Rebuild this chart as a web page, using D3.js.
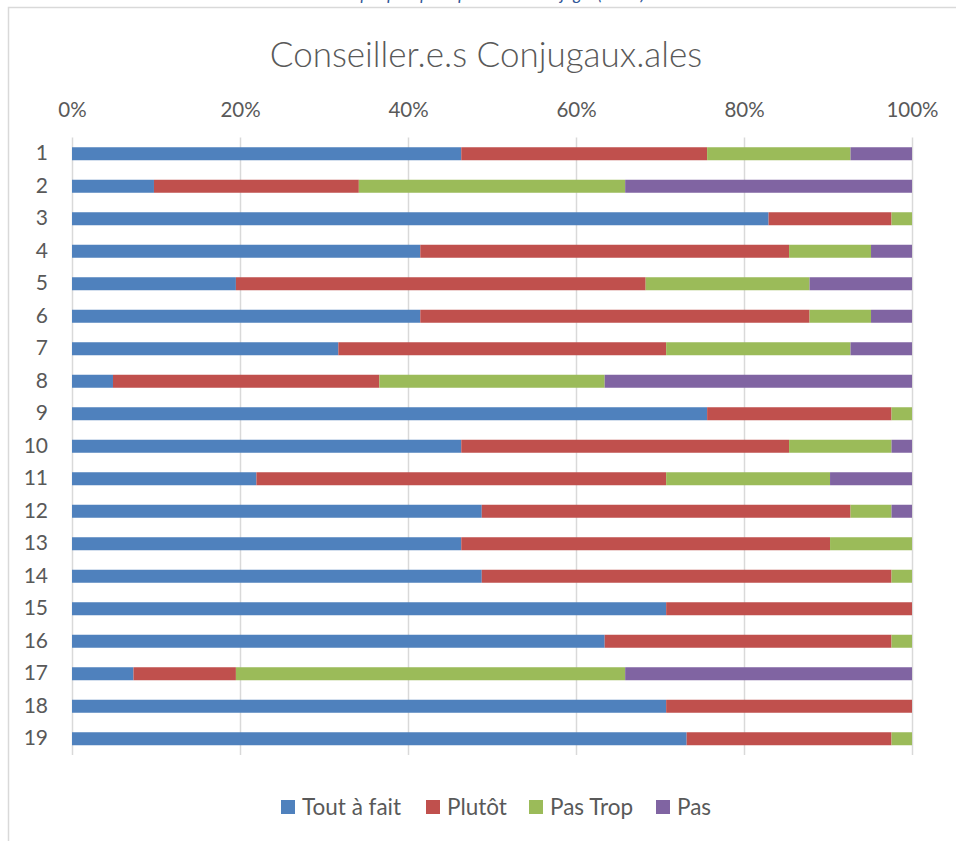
<!DOCTYPE html>
<html>
<head>
<meta charset="utf-8">
<script src="https://cdn.jsdelivr.net/npm/d3@7"></script>
<style>
  body { margin: 0; background: #fff; }
  svg text { font-family: Lato, "Open Sans", sans-serif; fill: #595959; }
</style>
</head>
<body>
<script>
// Chart data: counts of answers per question (41 respondents)
var questions = ["1","2","3","4","5","6","7","8","9","10","11","12","13","14","15","16","17","18","19"];
var series = ["Tout à fait", "Plutôt", "Pas Trop", "Pas"];
var toutAFait = [19, 4, 34, 17, 8, 17, 13, 2, 31, 19, 9, 20, 19, 20, 29, 26, 3, 29, 30];
var plutot    = [12, 10, 6, 18, 20, 19, 16, 13, 9, 16, 20, 18, 18, 20, 12, 14, 5, 12, 10];
var pasTrop   = [7, 13, 1, 4, 8, 3, 9, 11, 1, 5, 8, 2, 4, 1, 0, 1, 19, 0, 1];
var pas       = [3, 14, 0, 2, 5, 2, 3, 15, 0, 1, 4, 1, 0, 0, 0, 0, 14, 0, 0];
var tickValues = [0, 0.2, 0.4, 0.6, 0.8, 1];
var colors = ["#4F81BD", "#C0504D", "#9BBB59", "#8064A2"];

var width = 956, height = 841;
var margin = {left: 72, right: 44, top: 137.5, bottom: 86};

var svg = d3.select("body").append("svg")
    .attr("width", width)
    .attr("height", height);

// chart frame
svg.append("rect")
    .attr("x", 8.5).attr("y", 7.5)
    .attr("width", 1000).attr("height", 1000)
    .attr("fill", "#fff")
    .attr("stroke", "#D9D9D9")
    .attr("stroke-width", 1.5);

// caption above the chart (cut off in the original)
svg.append("text")
    .attr("x", 490).attr("y", 0)
    .attr("text-anchor", "middle")
    .attr("font-style", "italic")
    .attr("font-size", 17)
    .style("fill", "#2F5597")
    .text("Graphique : pratique conseil conjugal (n=41)");

svg.append("text")
    .attr("x", 486).attr("y", 67)
    .attr("text-anchor", "middle")
    .attr("font-size", 35)
    .attr("font-weight", 300)
    .text("Conseiller.e.s Conjugaux.ales");

var table = questions.map(function(q, i) {
    return {q: q, "Tout à fait": toutAFait[i], "Plutôt": plutot[i], "Pas Trop": pasTrop[i], "Pas": pas[i]};
});

var stacked = d3.stack()
    .keys(series)
    .offset(d3.stackOffsetExpand)(table);

var x = d3.scaleLinear()
    .domain([0, 1])
    .range([margin.left, width - margin.right]);

var y = d3.scaleBand()
    .domain(questions)
    .range([margin.top, height - margin.bottom])
    .paddingInner(0.6)
    .paddingOuter(0.3);

var color = d3.scaleOrdinal().domain(series).range(colors);

// gridlines + top labels
var xAxis = svg.append("g")
    .attr("transform", "translate(0," + margin.top + ")")
    .call(d3.axisTop(x)
        .tickValues(tickValues)
        .tickFormat(d3.format(".0%"))
        .tickSize(-(height - margin.bottom - margin.top))
        .tickPadding(21));
xAxis.select(".domain").remove();
xAxis.selectAll(".tick line").attr("stroke", "#D9D9D9").attr("stroke-width", 1.5);
xAxis.selectAll(".tick text").attr("font-size", 20.5).style("fill", "#595959");

// row labels
var yAxis = svg.append("g")
    .attr("transform", "translate(" + margin.left + ",0)")
    .call(d3.axisLeft(y).tickSize(0).tickPadding(24));
yAxis.select(".domain").remove();
yAxis.selectAll(".tick text").attr("font-size", 21).style("fill", "#595959");

svg.append("g").selectAll("g")
    .data(stacked)
    .enter().append("g")
    .attr("fill", function(d) { return color(d.key); })
    .selectAll("rect")
    .data(function(d) { return d; })
    .enter().append("rect")
    .attr("x", function(d) { return x(d[0]); })
    .attr("y", function(d) { return y(d.data.q); })
    .attr("width", function(d) { return x(d[1]) - x(d[0]); })
    .attr("height", y.bandwidth());

// legend
var legendX = [281, 426, 529, 656];
var legend = svg.append("g").selectAll("g")
    .data(series)
    .enter().append("g")
    .attr("transform", function(d, i) { return "translate(" + legendX[i] + ",800)"; });
legend.append("rect")
    .attr("width", 14).attr("height", 14)
    .attr("fill", function(d) { return color(d); });
legend.append("text")
    .attr("x", 21).attr("y", 14.5)
    .attr("font-size", 22.5)
    .text(function(d) { return d; });
</script>
</body>
</html>
